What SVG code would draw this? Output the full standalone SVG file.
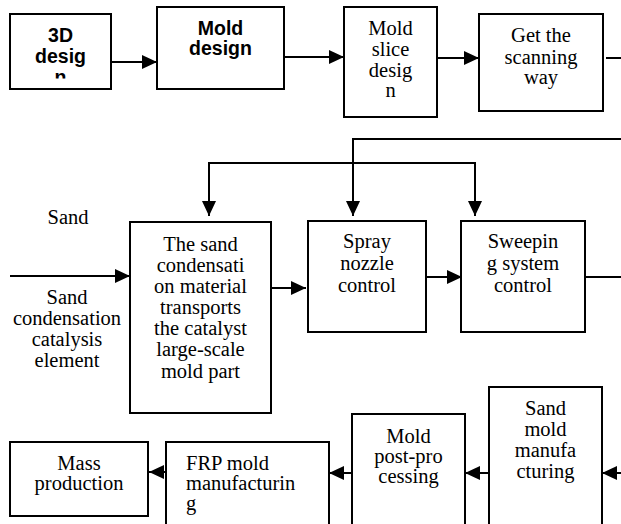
<svg xmlns="http://www.w3.org/2000/svg" width="621" height="524" viewBox="0 0 621 524">
<style>
.box{fill:#fff;stroke:#000;stroke-width:2}
.ln{fill:none;stroke:#000;stroke-width:2}
.s{font-family:'Liberation Serif','DejaVu Serif',serif;font-size:20.5px;fill:#000;text-anchor:middle}
.l{text-anchor:start}
.b{font-family:'Liberation Sans','DejaVu Sans',sans-serif;font-size:19.5px;font-weight:700;fill:#000;text-anchor:middle}
</style>
<defs>
<marker id="ah" markerUnits="userSpaceOnUse" markerWidth="16" markerHeight="16" refX="15" refY="7" orient="auto">
<path d="M0,0 L15,7 L0,14 Z" fill="#000"/>
</marker>
<clipPath id="c3d"><rect x="10" y="14" width="101" height="64.5"/></clipPath>
</defs>
<g id="connectors">
<line class="ln" x1="111" y1="62" x2="157" y2="62" marker-end="url(#ah)"/>
<line class="ln" x1="284" y1="57" x2="344" y2="57" marker-end="url(#ah)"/>
<line class="ln" x1="437" y1="58" x2="479" y2="58" marker-end="url(#ah)"/>
<line class="ln" x1="606" y1="58" x2="621" y2="58"/>
<polyline class="ln" points="621,139 353,139 353,216" marker-end="url(#ah)"/>
<polyline class="ln" points="209,216 209,163 475,163 475,216" marker-end="url(#ah)"/>
<line class="ln" x1="209" y1="163" x2="209" y2="216" marker-end="url(#ah)"/>
<line class="ln" x1="10" y1="276" x2="130" y2="276" marker-end="url(#ah)"/>
<line class="ln" x1="267" y1="288" x2="306" y2="288" marker-end="url(#ah)"/>
<line class="ln" x1="426" y1="277" x2="462" y2="277" marker-end="url(#ah)"/>
<line class="ln" x1="585" y1="277" x2="621" y2="277"/>
<line class="ln" x1="621" y1="473" x2="602" y2="473" marker-end="url(#ah)"/>
<line class="ln" x1="489" y1="473" x2="465" y2="473" marker-end="url(#ah)"/>
<line class="ln" x1="352" y1="473" x2="329" y2="473" marker-end="url(#ah)"/>
<line class="ln" x1="166" y1="472" x2="149" y2="472" marker-end="url(#ah)"/>
</g>
<g id="n3d">
<rect class="box" x="10" y="14" width="101" height="75"/>
<g clip-path="url(#c3d)">
<text class="b" x="60.5" y="42">3D</text>
<text class="b" x="60.5" y="63">desig</text>
<text class="b" x="60.5" y="84">n</text>
</g>
</g>
<g id="nMoldDesign">
<rect class="box" x="157" y="7" width="127" height="82"/>
<text class="b" x="220.5" y="35">Mold</text>
<text class="b" x="220.5" y="55">design</text>
</g>
<g id="nSlice">
<rect class="box" x="344" y="7" width="93" height="110"/>
<text class="s" x="390.5" y="35">Mold</text>
<text class="s" x="390.5" y="56">slice</text>
<text class="s" x="390.5" y="77">desig</text>
<text class="s" x="390.5" y="97">n</text>
</g>
<g id="nScan">
<rect class="box" x="479" y="14" width="124" height="97"/>
<text class="s" x="541" y="42">Get the</text>
<text class="s" x="541" y="64">scanning</text>
<text class="s" x="541" y="84">way</text>
</g>
<g id="lblSand">
<text class="s" x="68" y="224">Sand</text>
</g>
<g id="lblCatalysis">
<text class="s" x="67" y="304">Sand</text>
<text class="s" x="67" y="325">condensation</text>
<text class="s" x="67" y="346">catalysis</text>
<text class="s" x="67" y="367">element</text>
</g>
<g id="nSandCond">
<rect class="box" x="130" y="222" width="141" height="191"/>
<text class="s" x="200.5" y="251">The sand</text>
<text class="s" x="200.5" y="272">condensati</text>
<text class="s" x="200.5" y="293">on material</text>
<text class="s" x="200.5" y="314">transports</text>
<text class="s" x="200.5" y="335">the catalyst</text>
<text class="s" x="200.5" y="356">large-scale</text>
<text class="s" x="200.5" y="378">mold part</text>
</g>
<g id="nSpray">
<rect class="box" x="308" y="221" width="118" height="111"/>
<text class="s" x="367" y="248">Spray</text>
<text class="s" x="367" y="270">nozzle</text>
<text class="s" x="367" y="292">control</text>
</g>
<g id="nSweep">
<rect class="box" x="461" y="221" width="124" height="111"/>
<text class="s" x="523" y="248">Sweepin</text>
<text class="s" x="523" y="270">g system</text>
<text class="s" x="523" y="292">control</text>
</g>
<g id="nSandMold">
<rect class="box" x="489" y="387" width="113" height="150"/>
<text class="s" x="545.5" y="415">Sand</text>
<text class="s" x="545.5" y="436">mold</text>
<text class="s" x="545.5" y="457">manufa</text>
<text class="s" x="545.5" y="478">cturing</text>
</g>
<g id="nPost">
<rect class="box" x="352" y="414" width="113" height="130"/>
<text class="s" x="408.5" y="443">Mold</text>
<text class="s" x="408.5" y="463">post-pro</text>
<text class="s" x="408.5" y="483">cessing</text>
</g>
<g id="nFRP">
<rect class="box" x="166" y="442" width="163" height="100"/>
<text class="s l" x="186" y="470">FRP mold</text>
<text class="s l" x="186" y="490">manufacturin</text>
<text class="s l" x="186" y="510">g</text>
</g>
<g id="nMass">
<rect class="box" x="10" y="442" width="138" height="74"/>
<text class="s" x="79" y="470">Mass</text>
<text class="s" x="79" y="490">production</text>
</g>
</svg>
